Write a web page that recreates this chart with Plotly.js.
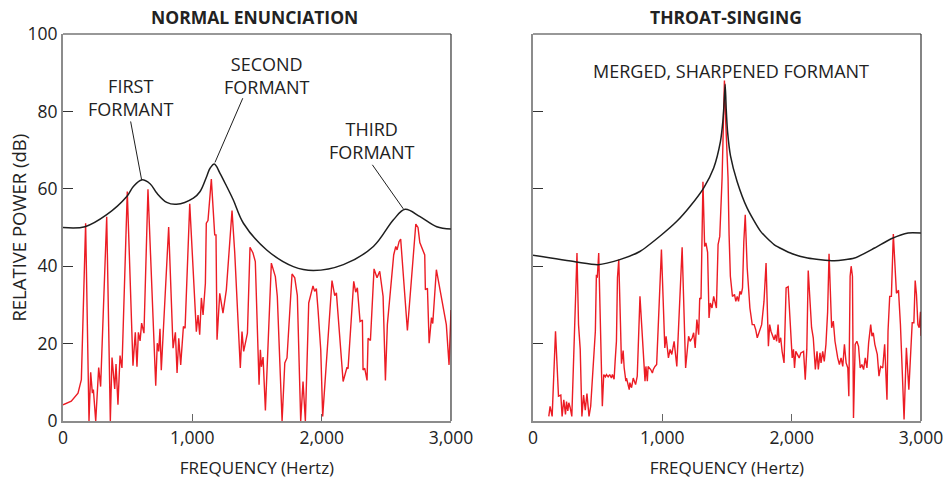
<!DOCTYPE html>
<html>
<head>
<meta charset="utf-8">
<script src="https://cdn.plot.ly/plotly-3.0.1.min.js"></script>
<style>html,body{margin:0;padding:0;background:#fff;}#chart{width:947px;height:485px;}</style>
</head>
<body>
<div id="chart"></div>
<script>
// ---- Normal enunciation: harmonic spectrum (red) ----
const normalFreq = [0, 64, 116, 142, 175, 201, 214, 227, 235, 253, 276, 291, 338, 366, 379, 400, 410, 425, 441, 456, 497, 541, 559, 572, 583, 596, 608, 626, 657, 717, 729, 740, 750, 760, 817, 851, 869, 882, 895, 910, 931, 944, 980, 1031, 1044, 1057, 1070, 1083, 1101, 1108, 1121, 1147, 1173, 1183, 1191, 1212, 1237, 1263, 1307, 1328, 1371, 1384, 1397, 1426, 1446, 1469, 1487, 1516, 1526, 1534, 1547, 1565, 1611, 1642, 1657, 1694, 1715, 1732, 1771, 1792, 1812, 1838, 1856, 1874, 1900, 1933, 1946, 1959, 1972, 1993, 2008, 2080, 2101, 2114, 2166, 2196, 2204, 2248, 2263, 2276, 2297, 2315, 2320, 2333, 2351, 2359, 2377, 2405, 2428, 2449, 2475, 2493, 2508, 2544, 2557, 2573, 2583, 2599, 2611, 2663, 2728, 2745, 2759, 2797, 2802, 2818, 2831, 2849, 2859, 2887, 2964, 2985, 3000];
const normalPower = [4.2, 5.1, 7.2, 10.7, 51.1, 0, 12.6, 7.2, 8.1, 0, 13.8, 8.9, 52.8, 0, 16.4, 8.3, 14.7, 4.2, 16.9, 13.7, 59.3, 14.3, 22.9, 14, 22.9, 20.7, 25.3, 22.7, 59.9, 9.1, 20.1, 18, 23.8, 13.1, 50.1, 18.8, 22.9, 12.4, 21.4, 14.5, 24.4, 24, 56.1, 23.1, 27.4, 22.3, 31.8, 27.4, 35.6, 51.1, 51.8, 62.5, 48.1, 48.1, 21, 33, 27.9, 33.9, 54.4, 43.4, 13.7, 23.1, 18, 22.7, 44.9, 43.4, 41.2, 9.4, 18.4, 14, 16.5, 2.7, 40.8, 37.3, 32.2, 0, 15, 16.3, 38, 37, 32.4, 0, 10.2, 0, 30.5, 34.9, 33.5, 34.2, 28.7, 18.4, 1.2, 36.3, 32.4, 33.1, 10.2, 13.9, 13.5, 36.1, 33.3, 34.4, 25.7, 26.1, 13.2, 13.6, 10.5, 21.4, 20.8, 39.3, 37, 38.7, 32.2, 10.5, 24.9, 37.8, 42.9, 45.1, 44.2, 46.4, 47, 23.4, 50.9, 50, 46.1, 42.9, 33.9, 34.3, 20.1, 26.7, 25.2, 39.1, 24.9, 14.5, 28.7];

// ---- Normal enunciation: formant envelope (black) ----
const normalEnvFreq = [0, 170, 338, 493, 544, 608, 673, 725, 802, 877, 1008, 1060, 1111, 1137, 1170, 1214, 1266, 1317, 1395, 1575, 1781, 1936, 2168, 2400, 2555, 2645, 2761, 2890, 3000];
const normalEnvPower = [50, 50.2, 53.3, 58, 60.6, 62.3, 61.3, 58.9, 56.5, 56, 57.6, 59.3, 63.2, 65.3, 66.4, 64, 60.6, 57.1, 51.1, 44.2, 39.9, 38.9, 40.4, 45.1, 52, 54.7, 52.8, 50.2, 49.6];

// ---- Throat-singing: harmonic spectrum (red) ----
const throatFreq = [122, 132, 148, 174, 197, 215, 225, 238, 251, 259, 269, 277, 288, 300, 340, 352, 365, 378, 391, 404, 417, 433, 446, 456, 469, 482, 490, 497, 508, 516, 523, 536, 547, 560, 568, 581, 593, 606, 614, 627, 635, 645, 653, 663, 676, 684, 697, 705, 718, 723, 744, 749, 762, 775, 793, 806, 827, 840, 853, 866, 873, 884, 890, 910, 923, 930, 943, 956, 993, 1019, 1029, 1047, 1060, 1073, 1091, 1112, 1153, 1180, 1203, 1215, 1231, 1242, 1254, 1267, 1281, 1289, 1299, 1314, 1327, 1337, 1350, 1361, 1371, 1384, 1397, 1418, 1431, 1444, 1462, 1475, 1480, 1490, 1498, 1508, 1516, 1526, 1542, 1558, 1568, 1579, 1589, 1600, 1610, 1620, 1630, 1641, 1656, 1664, 1677, 1695, 1710, 1722, 1734, 1768, 1778, 1786, 1802, 1812, 1820, 1830, 1840, 1864, 1874, 1884, 1895, 1903, 1915, 1926, 1941, 1957, 1973, 1988, 2004, 2014, 2022, 2032, 2045, 2058, 2071, 2092, 2105, 2117, 2128, 2141, 2154, 2167, 2183, 2196, 2206, 2219, 2227, 2240, 2252, 2265, 2278, 2289, 2299, 2309, 2322, 2335, 2356, 2369, 2382, 2395, 2408, 2421, 2434, 2442, 2452, 2460, 2470, 2478, 2491, 2504, 2517, 2530, 2543, 2556, 2569, 2582, 2595, 2611, 2621, 2631, 2643, 2662, 2675, 2688, 2704, 2719, 2737, 2745, 2758, 2771, 2786, 2797, 2810, 2826, 2841, 2856, 2869, 2887, 2906, 2932, 2945, 2955, 2965, 2976, 2986, 2996, 3000];
const throatPower = [1.2, 3.8, 1.2, 23.2, 6.4, 6.7, 1.2, 5.5, 1.7, 5, 2.6, 4.7, 3.4, 1.2, 43.4, 24.9, 18.5, 1.2, 6.7, 2.8, 7.1, 1.2, 3.8, 9.4, 14.6, 23.2, 37.8, 37, 43.4, 34, 23.2, 3.8, 12, 11.4, 12, 11.4, 12, 11.1, 12, 10.8, 15.4, 20.6, 37, 41.7, 25.4, 14.8, 18.2, 13.7, 10.3, 11.1, 8.1, 9.9, 8.6, 11.1, 9.4, 11.6, 32.2, 25.8, 16.8, 10.3, 14.1, 10.3, 14.1, 13.3, 12.4, 13.3, 14.1, 14.6, 44.3, 18.9, 21.9, 16.3, 18.5, 17.2, 20.6, 14.1, 44.9, 13.7, 21.9, 20.6, 21.5, 22.8, 18.9, 26.2, 22.3, 31.8, 31.5, 61.8, 45.1, 46, 43.6, 26.6, 30.5, 29.2, 32.2, 29.2, 45.6, 47.7, 62.8, 78.3, 88, 77.4, 69.7, 62.8, 48.2, 37.4, 32.2, 32.7, 30.9, 32.2, 30.9, 33.5, 32.7, 34.4, 46.4, 53.3, 39.6, 35.7, 29.2, 24.9, 24.9, 23.6, 21.5, 24.9, 27.5, 30.9, 40.8, 30.9, 19.3, 24.9, 23.2, 21, 22.3, 20.6, 24.9, 20.2, 21.5, 18, 15, 34.4, 34.7, 25.8, 16.3, 18.5, 13.7, 18, 17.2, 16.3, 17.6, 18, 10.7, 18.5, 38.9, 30.5, 24.1, 21.5, 13.3, 18, 13.3, 17.6, 15, 18, 15.4, 19.8, 28.2, 43.2, 33.5, 24.1, 25.8, 20.6, 16.3, 14.6, 16.3, 14.1, 19.8, 15, 13.7, 6.4, 37.4, 40, 37.4, 0.8, 19.8, 20.6, 19.3, 13.7, 14.6, 13.3, 16.3, 13.7, 20.2, 24.9, 21.9, 22.8, 19.8, 17.2, 11.6, 14.1, 13.7, 19.8, 5.5, 23.2, 32.2, 32.2, 48.3, 40.8, 33, 33.8, 24.9, 12, 0.4, 18.9, 8.1, 25.4, 25.4, 36.3, 32.7, 24.9, 24.1, 28.2, 22];

// ---- Throat-singing: merged formant envelope (black) ----
const throatEnvFreq = [0, 334, 503, 671, 826, 990, 1112, 1215, 1319, 1397, 1449, 1468, 1478, 1486, 1494, 1505, 1527, 1578, 1656, 1760, 1864, 2004, 2123, 2330, 2486, 2641, 2770, 2900, 3000];
const throatEnvPower = [42.8, 41.1, 40.4, 41.7, 43.8, 48, 51.6, 55.5, 60.2, 65.4, 72.2, 77.5, 82.5, 87, 80.5, 74.5, 68.5, 61.9, 55, 49, 45.6, 43.2, 42.1, 41.4, 42.1, 44.7, 47.1, 48.6, 48.6];

// ---- Axis ticks and labels ----
const xTickVals = [0, 1000, 2000, 3000];
const xTickText = ["0", "1,000", "2,000", "3,000"];
const yTickVals = [0, 20, 40, 60, 80, 100];
const yTickText = ["0", "20", "40", "60", "80", "100"];

const panelTitles = ["NORMAL ENUNCIATION", "THROAT-SINGING"];
const xTitle = "FREQUENCY (Hertz)";
const yTitle = "RELATIVE POWER (dB)";

// Formant labels: [text, x, y] and leader lines [x0,y0,x1,y1]
const formantLabels = [
  {text: "FIRST<br>FORMANT", x: 526, y: 83.7, lead: [523, 77.4, 608, 62.3]},
  {text: "SECOND<br>FORMANT", x: 1578, y: 89.2, lead: [1390, 83.4, 1175, 66.8]},
  {text: "THIRD<br>FORMANT", x: 2390, y: 72.5, lead: [2392, 66.2, 2632, 54.8]}
];
const mergedLabel = {text: "MERGED, SHARPENED FORMANT", x: 1532, y: 90.5};

const RED = "#ec1c24";
const DARK = "#1e1e1e";
const FONT = "Open Sans, Noto Sans, sans-serif";

const traces = [
  {x: normalFreq, y: normalPower, xaxis: "x", yaxis: "y", mode: "lines",
   line: {color: RED, width: 1.4}, hoverinfo: "skip"},
  {x: normalEnvFreq, y: normalEnvPower, xaxis: "x", yaxis: "y", mode: "lines",
   line: {color: DARK, width: 1.5, shape: "spline", smoothing: 1}, hoverinfo: "skip"},
  {x: throatFreq, y: throatPower, xaxis: "x2", yaxis: "y2", mode: "lines",
   line: {color: RED, width: 1.4}, hoverinfo: "skip"},
  {x: throatEnvFreq, y: throatEnvPower, xaxis: "x2", yaxis: "y2", mode: "lines",
   line: {color: DARK, width: 1.5, shape: "spline", smoothing: 0.6}, hoverinfo: "skip"}
];

function xAxis(domain, anchor) {
  return {
    domain: domain, anchor: anchor, range: [0, 3000], fixedrange: true,
    tickvals: xTickVals, ticktext: xTickText,
    ticks: "inside", ticklen: 7, tickwidth: 1.3, tickcolor: "#666",
    showline: true, linecolor: "#8c8c8c", linewidth: 2,
    showgrid: false, zeroline: false,
    tickfont: {family: FONT, size: 17.5, color: "#222"},
    title: {text: xTitle, font: {family: FONT, size: 17, color: "#222"}, standoff: 14}
  };
}
function yAxis(anchor, labels) {
  return {
    anchor: anchor, range: [0, 100], fixedrange: true,
    tickvals: yTickVals, ticktext: yTickText, showticklabels: labels,
    ticks: "inside", ticklen: 10, tickwidth: 1.3, tickcolor: "#333",
    showline: true, linecolor: "#8c8c8c", linewidth: 2,
    showgrid: false, zeroline: false,
    tickfont: {family: FONT, size: 17.5, color: "#222"}
  };
}

const shapes = [];
// top and right frame lines of each panel
[["x", "y"], ["x2", "y2"]].forEach(([xa, ya]) => {
  shapes.push({type: "line", xref: xa + " domain", yref: ya + " domain", x0: 0, x1: 1, y0: 1, y1: 1, line: {color: "#333", width: 1.2}});
  shapes.push({type: "line", xref: xa + " domain", yref: ya + " domain", x0: 1, x1: 1, y0: 0, y1: 1, line: {color: "#333", width: 1.2}});
});
formantLabels.forEach(f => {
  shapes.push({type: "line", xref: "x", yref: "y", x0: f.lead[0], y0: f.lead[1], x1: f.lead[2], y1: f.lead[3], line: {color: DARK, width: 1}});
});

const annotations = [
  {text: "<b>" + panelTitles[0] + "</b>", xref: "x domain", yref: "paper", x: 0.494, y: 1.044, showarrow: false,
   xanchor: "center", yanchor: "middle", font: {family: FONT, size: 17.5, color: "#222"}},
  {text: "<b>" + panelTitles[1] + "</b>", xref: "x2 domain", yref: "paper", x: 0.498, y: 1.044, showarrow: false,
   xanchor: "center", yanchor: "middle", font: {family: FONT, size: 17.5, color: "#222"}},
  {text: yTitle, xref: "paper", yref: "paper", x: -0.05, y: 0.5, textangle: -90, showarrow: false,
   xanchor: "center", yanchor: "middle", xshift: -2, font: {family: FONT, size: 18.5, color: "#222"}}
];
formantLabels.forEach(f => {
  annotations.push({text: f.text, xref: "x", yref: "y", x: f.x, y: f.y, showarrow: false,
    xanchor: "center", yanchor: "middle", font: {family: FONT, size: 18, color: "#222"}});
});
annotations.push({text: mergedLabel.text, xref: "x2", yref: "y2", x: mergedLabel.x, y: mergedLabel.y, showarrow: false,
  xanchor: "center", yanchor: "middle", font: {family: FONT, size: 18, color: "#222"}});

const layout = {
  width: 947, height: 485,
  margin: {l: 63, r: 26, t: 34, b: 64},
  paper_bgcolor: "#fff", plot_bgcolor: "#fff",
  showlegend: false,
  font: {family: FONT, color: "#222"},
  xaxis: xAxis([0, 0.4522], "y"),
  yaxis: yAxis("x", true),
  xaxis2: xAxis([0.5478, 1], "y2"),
  yaxis2: yAxis("x2", false),
  shapes: shapes,
  annotations: annotations
};

Plotly.newPlot("chart", traces, layout, {staticPlot: true, displayModeBar: false});
</script>
</body>
</html>
